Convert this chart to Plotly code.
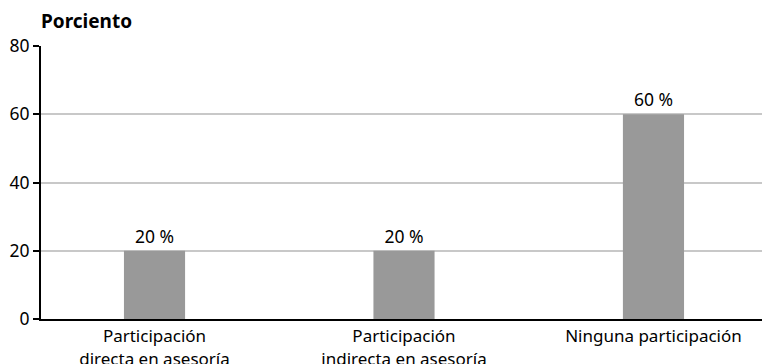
import plotly.graph_objects as go

categories = ["Participación<br>directa en asesoría",
              "Participación<br>indirecta en asesoría",
              "Ninguna participación"]
values = [20, 20, 60]
value_labels = ["20 %", "20 %", "60 %"]
y_ticks = [0, 20, 40, 60, 80]

FONT = "Noto Sans"

fig = go.Figure(go.Bar(
    x=categories, y=values,
    text=value_labels, textposition="outside",
    textfont=dict(family=FONT, size=17.5, color="#000"),
    marker=dict(color="#999999", line=dict(width=0)),
    width=0.245, cliponaxis=False,
))

fig.update_layout(
    width=762, height=364,
    margin=dict(l=41, r=0, t=46, b=45, autoexpand=False),
    plot_bgcolor="white", paper_bgcolor="white",
    showlegend=False,
    font=dict(family=FONT, size=17.5, color="#000"),
    title=dict(text="<b>Porciento</b>", x=0, xref="paper", xanchor="left",
               y=1 - 21 / 364, yref="container", yanchor="middle",
               font=dict(family=FONT, size=19, color="#000")),
    xaxis=dict(range=[-0.455, 2.435], showline=True, linecolor="#000", linewidth=2,
               ticks="", showgrid=False, tickfont=dict(size=17),
               automargin=False, ticklabelstandoff=1),
    yaxis=dict(range=[0, 80], tickvals=y_ticks, showline=True, linecolor="#000",
               linewidth=2, ticks="outside", ticklen=6, tickcolor="#000", tickwidth=1.5,
               showgrid=True, gridcolor="#c8c8c8", gridwidth=1.5, zeroline=False,
               automargin=False, tickfont=dict(size=17.5)),
)

fig.write_html("out.html")
